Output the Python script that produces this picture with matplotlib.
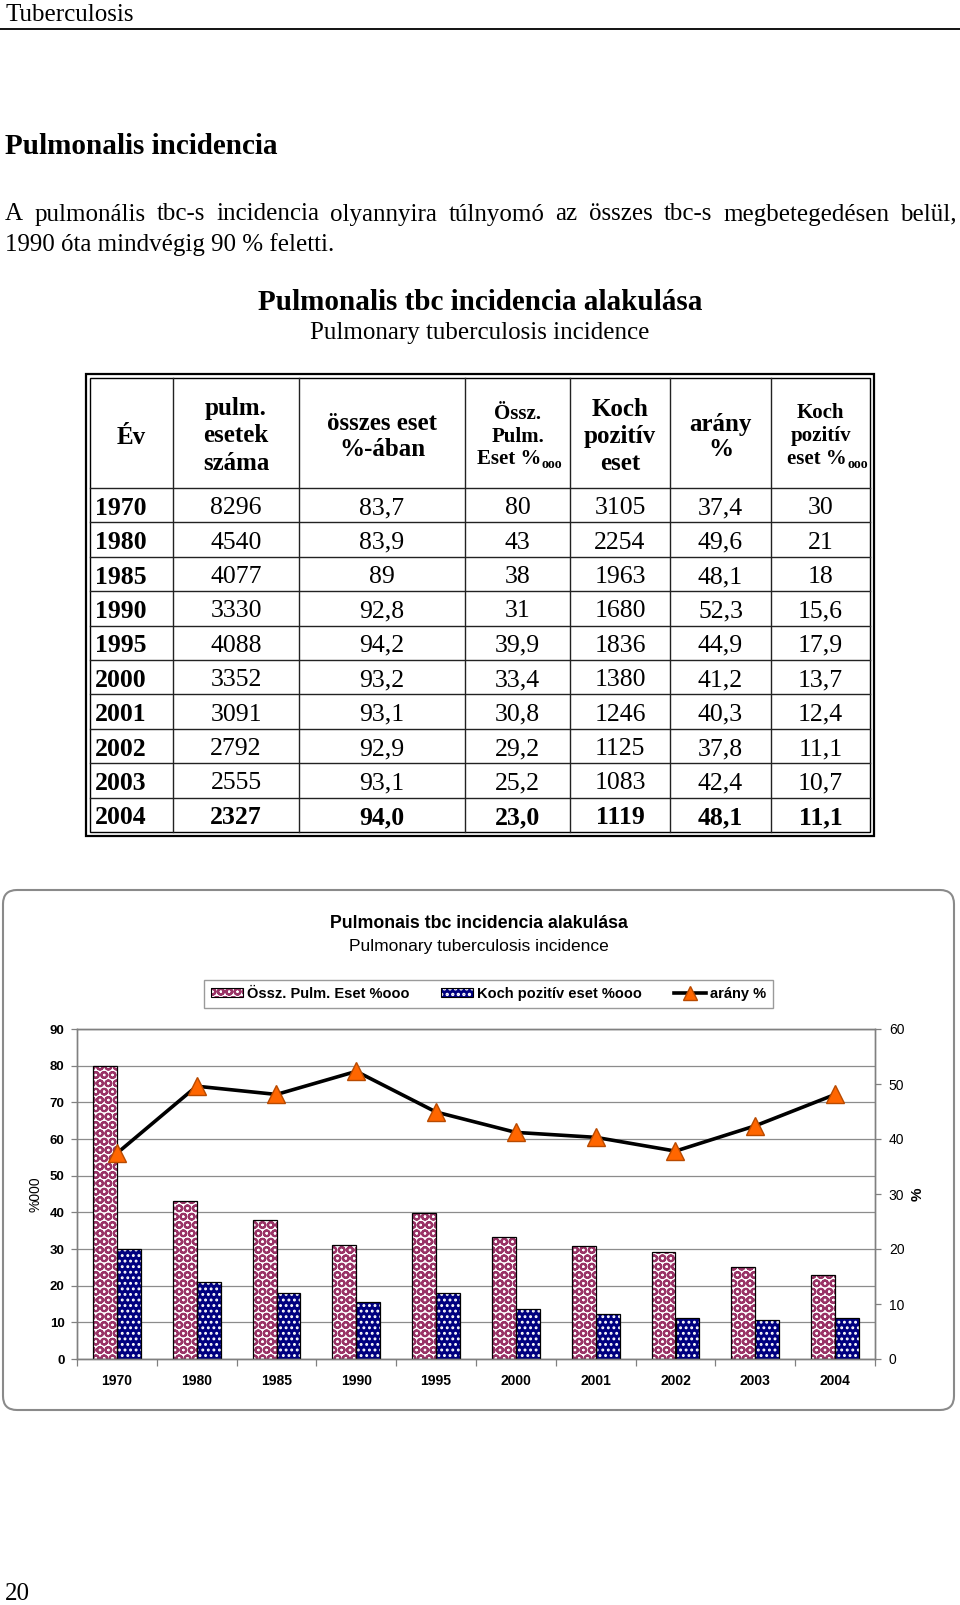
import matplotlib
matplotlib.use('Agg')
import matplotlib.pyplot as plt
from matplotlib.patches import Rectangle, FancyBboxPatch, Patch
from matplotlib.lines import Line2D
import numpy as np

# ---------------- data ----------------
years = ['1970', '1980', '1985', '1990', '1995', '2000', '2001', '2002', '2003', '2004']
pulm_cases_txt = ['8296', '4540', '4077', '3330', '4088', '3352', '3091', '2792', '2555', '2327']
pct_of_all_txt = ['83,7', '83,9', '89', '92,8', '94,2', '93,2', '93,1', '92,9', '93,1', '94,0']
pulm_rate_txt = ['80', '43', '38', '31', '39,9', '33,4', '30,8', '29,2', '25,2', '23,0']
koch_cases_txt = ['3105', '2254', '1963', '1680', '1836', '1380', '1246', '1125', '1083', '1119']
koch_share_txt = ['37,4', '49,6', '48,1', '52,3', '44,9', '41,2', '40,3', '37,8', '42,4', '48,1']
koch_rate_txt = ['30', '21', '18', '15,6', '17,9', '13,7', '12,4', '11,1', '10,7', '11,1']

def num(lst):
    return [float(s.replace(',', '.')) for s in lst]

pulm_rate = num(pulm_rate_txt)
koch_rate = num(koch_rate_txt)
koch_share = num(koch_share_txt)

left_ticks = list(range(0, 91, 10))
right_ticks = list(range(0, 61, 10))

SERIF = 'Liberation Serif'
SANS = 'Liberation Sans'
plt.rcParams['hatch.linewidth'] = 1.6

W, H = 960, 1605
fig = plt.figure(figsize=(W / 100, H / 100), dpi=100)
bg = fig.add_axes([0, 0, 1, 1])
bg.set_xlim(0, W)
bg.set_ylim(H, 0)
bg.axis('off')

def frac(x0, y0, x1, y1):
    return [x0 / W, 1 - y1 / H, (x1 - x0) / W, (y1 - y0) / H]

# ---------------- page text ----------------
bg.text(5, 15, 'Tuberculosis', family=SERIF, fontsize=18, va='center', ha='left')
bg.plot([0, W], [29, 29], color='black', lw=1.3)
bg.text(5, 147, 'Pulmonalis incidencia', family=SERIF, fontsize=21,
        fontweight='bold', va='center', ha='left')

para1 = 'A pulmonális tbc-s incidencia olyannyira túlnyomó az összes tbc-s megbetegedésen belül,'
para2 = '1990 óta mindvégig 90 % feletti.'
renderer = fig.canvas.get_renderer()
words = para1.split(' ')
wtexts = [bg.text(0, 212, w, family=SERIF, fontsize=18, va='center_baseline', ha='left') for w in words]
widths = [t.get_window_extent(renderer=renderer).width for t in wtexts]
gap = (957 - 5 - sum(widths)) / (len(words) - 1)
xx = 5
for t, wdt in zip(wtexts, widths):
    t.set_x(xx)
    xx += wdt + gap
bg.text(5, 242, para2, family=SERIF, fontsize=18, va='center_baseline', ha='left')

bg.text(480, 303, 'Pulmonalis tbc incidencia alakulása', family=SERIF, fontsize=21,
        fontweight='bold', va='center', ha='center')
bg.text(480, 333, 'Pulmonary tuberculosis incidence', family=SERIF, fontsize=18,
        va='center', ha='center')

# ---------------- table ----------------
col_x = [90, 173, 299, 465, 570, 670, 771, 870]
top_in, head_bot, row_h = 378, 488, 34.4
row_y = [head_bot + row_h * i for i in range(len(years) + 1)]
bot_in = row_y[-1]

bg.add_patch(Rectangle((86, 374), 788, bot_in + 4 - 374, fill=False, ec='black', lw=1.6))
bg.add_patch(Rectangle((90, top_in), 780, bot_in - top_in, fill=False, ec='black', lw=1.0))
for cx in col_x[1:-1]:
    bg.plot([cx, cx], [top_in, bot_in], color='#222222', lw=1.0)
for ry in row_y[:-1]:
    bg.plot([col_x[0], col_x[-1]], [ry, ry], color='#222222', lw=1.0)

centers = [(col_x[i] + col_x[i + 1]) / 2 for i in range(len(col_x) - 1)]
hfs = 18
sfs = 15
bg.text(centers[0], 437, 'Év', family=SERIF, fontsize=hfs, fontweight='bold', ha='center', va='center')
for txt, yy in zip(['pulm.', 'esetek', 'száma'], [409, 436, 464]):
    bg.text(centers[1], yy, txt, family=SERIF, fontsize=hfs, fontweight='bold', ha='center', va='center')
for txt, yy in zip(['összes eset', '%-ában'], [423, 450]):
    bg.text(centers[2], yy, txt, family=SERIF, fontsize=hfs, fontweight='bold', ha='center', va='center')
for txt, yy in zip(['Össz.', 'Pulm.'], [414, 437]):
    bg.text(centers[3], yy, txt, family=SERIF, fontsize=sfs, fontweight='bold', ha='center', va='center')
bg.text(541, 459, 'Eset %', family=SERIF, fontsize=sfs, fontweight='bold', ha='right', va='center')
bg.text(541, 464, 'ooo', family=SERIF, fontsize=10, fontweight='bold', ha='left', va='center')
for txt, yy in zip(['Koch', 'pozitív', 'eset'], [409, 436, 464]):
    bg.text(centers[4], yy, txt, family=SERIF, fontsize=hfs, fontweight='bold', ha='center', va='center')
for txt, yy in zip(['arány', '%'], [424, 450]):
    bg.text(centers[5], yy, txt, family=SERIF, fontsize=hfs, fontweight='bold', ha='center', va='center')
for txt, yy in zip(['Koch', 'pozitív'], [413, 436]):
    bg.text(centers[6], yy, txt, family=SERIF, fontsize=sfs, fontweight='bold', ha='center', va='center')
bg.text(847, 459, 'eset %', family=SERIF, fontsize=sfs, fontweight='bold', ha='right', va='center')
bg.text(847, 464, 'ooo', family=SERIF, fontsize=10, fontweight='bold', ha='left', va='center')

columns = [pulm_cases_txt, pct_of_all_txt, pulm_rate_txt, koch_cases_txt, koch_share_txt, koch_rate_txt]
for i, yr in enumerate(years):
    yc = (row_y[i] + row_y[i + 1]) / 2 + 3
    last = (i == len(years) - 1)
    bg.text(95, yc, yr, family=SERIF, fontsize=18.5, fontweight='bold', ha='left', va='center')
    for j, col in enumerate(columns):
        bg.text(centers[j + 1], yc, col[i], family=SERIF, fontsize=18.5,
                fontweight='bold' if last else 'normal', ha='center', va='center')

# ---------------- chart box ----------------
bg.add_patch(FancyBboxPatch((3, 890), 951, 520, boxstyle='round,pad=0,rounding_size=14',
                            ec='#8a8a8a', fc='white', lw=1.5))
bg.text(479, 924, 'Pulmonais tbc incidencia alakulása', family=SANS, fontsize=12.8,
        fontweight='bold', ha='center', va='center')
bg.text(479, 947, 'Pulmonary tuberculosis incidence', family=SANS, fontsize=12.5,
        ha='center', va='center')

bg.text(5, 1594, '20', family=SERIF, fontsize=18, ha='left', va='center')

ax = fig.add_axes(frac(77, 1029, 875, 1359))
ax.set_facecolor('none')
x = np.arange(len(years))
bw = 0.3
PINK = '#993366'
NAVY = '#000080'
PINK_HATCH, PINK_HLW = 'OO', 1.5
NAVY_HATCH, NAVY_HLW = '...', 1.3

def hatched_bar(xpos, vals, fc, hc, hatch, hlw):
    with plt.rc_context({'hatch.linewidth': hlw}):
        bars = ax.bar(xpos, vals, bw, color=fc, edgecolor=hc, linewidth=0, hatch=hatch, zorder=2)
        for b in bars:
            if hasattr(b, 'set_hatch_linewidth'):
                b.set_hatch_linewidth(hlw)
    ax.bar(xpos, vals, bw, fill=False, edgecolor='black', linewidth=0.9, zorder=3)

hatched_bar(x - bw / 2, pulm_rate, 'white', PINK, PINK_HATCH, PINK_HLW)
hatched_bar(x + bw / 2, koch_rate, NAVY, 'white', NAVY_HATCH, NAVY_HLW)

ax.set_xlim(-0.5, len(years) - 0.5)
ax.set_ylim(0, 90)
ax.set_axisbelow(True)
ax.grid(axis='y', color='#8c8c8c', lw=0.9)
ax.set_xticks(x)
ax.set_xticklabels(years, family=SANS, fontsize=10, fontweight='bold')
ax.set_xticks(np.arange(-0.5, len(years), 1), minor=True)
ax.tick_params(axis='x', which='major', length=0, pad=11)
ax.tick_params(axis='x', which='minor', length=5, color='#808080', width=0.9)
ax.set_yticks(left_ticks)
ax.set_yticklabels([str(t) for t in left_ticks], family=SANS, fontsize=9.5, fontweight='bold')
ax.tick_params(axis='y', length=4, color='#808080', width=0.9, pad=5)
for s in ax.spines.values():
    s.set_color('#808080')
    s.set_linewidth(1.0)
ax.set_ylabel('%000', family=SANS, fontsize=10, va='center')
ax.yaxis.set_label_coords((35 - 77) / 798, 0.5)

ax2 = ax.twinx()
ax2.plot(x, koch_share, color='black', lw=2.6, marker='^', ms=13,
         mfc='#FF6600', mec='#B84A00', mew=1.0, zorder=4)
ax2.set_ylim(0, 60)
ax2.set_yticks(right_ticks)
ax2.set_yticklabels([str(t) for t in right_ticks], family=SANS, fontsize=10)
ax2.tick_params(axis='y', length=4, color='#808080', width=0.9, pad=6)
for s in ax2.spines.values():
    s.set_color('#808080')
    s.set_linewidth(1.0)
ax2.set_ylabel('%', family=SANS, fontsize=11, fontweight='bold', va='center')
ax2.yaxis.set_label_coords((918 - 77) / 798, 0.5)

# ---------------- legend ----------------
def legend_patch(fc, hc, hatch, hlw):
    with plt.rc_context({'hatch.linewidth': hlw}):
        p = Patch(facecolor=fc, edgecolor=hc, linewidth=0, hatch=hatch)
        if hasattr(p, 'set_hatch_linewidth'):
            p.set_hatch_linewidth(hlw)
    return (p, Patch(fill=False, edgecolor='black', linewidth=0.8))

h1 = legend_patch('white', PINK, PINK_HATCH, PINK_HLW)
h2 = legend_patch(NAVY, 'white', NAVY_HATCH, NAVY_HLW)
h3 = Line2D([], [], color='black', lw=2.6, marker='^', ms=10, mfc='#FF6600', mec='#B84A00')
leg = fig.legend([h1, h2, h3], ['Össz. Pulm. Eset %ooo', 'Koch pozitív eset %ooo', 'arány %'],
                 loc='center', bbox_to_anchor=frac(204, 977, 773, 1011), mode='expand', ncol=3,
                 prop={'family': SANS, 'size': 10.5, 'weight': 'bold'},
                 frameon=True, fancybox=False, edgecolor='#9a9a9a', framealpha=1,
                 borderpad=0.45, borderaxespad=0, handlelength=2.2, handleheight=0.6,
                 handletextpad=0.3, columnspacing=1.5)
leg.get_frame().set_linewidth(1.0)

fig.savefig('out.png', dpi=100)
